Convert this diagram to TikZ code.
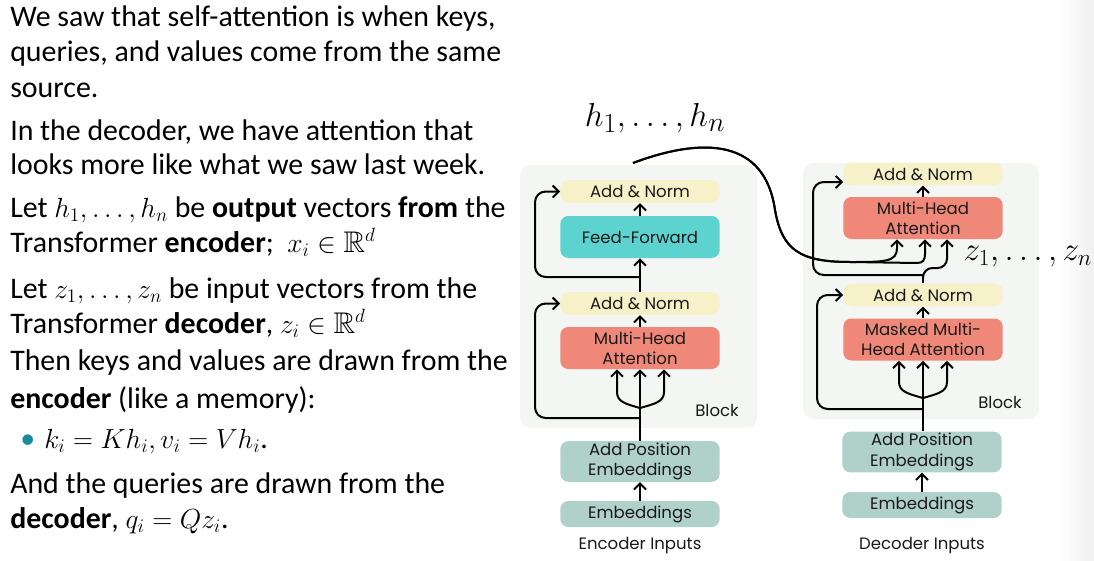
\documentclass[tikz,border=0pt]{standalone}
\usepackage{amssymb}
\usepackage{fontspec}
\setmainfont{Carlito}
\newfontfamily\boxfont{Poppins}
\usetikzlibrary{arrows.meta,calc}

\definecolor{normc}{RGB}{246,241,201}
\definecolor{ffc}{RGB}{92,211,206}
\definecolor{attc}{RGB}{239,136,120}
\definecolor{embc}{RGB}{176,208,202}
\definecolor{blockc}{RGB}{244,246,243}
\definecolor{dotc}{RGB}{28,138,154}
\definecolor{inkc}{RGB}{25,25,25}

\tikzset{
bodytext/.style={anchor=base west, inner sep=0pt, font=\fontsize{22.4}{26}\selectfont},
box/.style={rounded corners=6pt, inner sep=0pt, minimum width=119.5pt, align=center,
  text=inkc, font=\boxfont\fontsize{12.4}{15.2}\selectfont},
normbox/.style={box, fill=normc, minimum height=17pt},
ffbox/.style={box, fill=ffc, minimum height=31.5pt},
attbox/.style={box, fill=attc, minimum height=31.5pt},
posbox/.style={box, fill=embc, minimum height=30.5pt},
embbox/.style={box, fill=embc, minimum height=19.5pt},
smalltext/.style={text=inkc, font=\boxfont\fontsize{12.4}{15.2}\selectfont},
arr/.style={-{Straight Barb[length=4.5pt,width=9pt]}, line width=1.5pt},
ln/.style={line width=1.5pt}}

\begin{document}
\begin{tikzpicture}[x=0.75pt,y=0.75pt,yscale=-1,xscale=1]
\useasboundingbox (0,0) rectangle (1094,560);

%Shape: slide shadow
\shade[left color=white, right color=black!6] (1058,0) rectangle (1094,560);

% Text Node
\node[bodytext] (l1) at (10,27) {We saw that self-attention is when keys,};
\node[bodytext] (l2) at (10,62) {queries, and values come from the same};
\node[bodytext] (l3) at (10,97) {source.};
\node[bodytext] (l4) at (10,140) {In the decoder, we have attention that};
\node[bodytext] (l5) at (10,174) {looks more like what we saw last week.};
\node[bodytext] (l6) at (10,217) {Let $h_1,\ldots,h_n$ be \textbf{output} vectors \textbf{from} the};
\node[bodytext] (l7) at (10,252) {Transformer \textbf{encoder};\ \ $x_i\in\mathbb{R}^d$};
\node[bodytext] (l8) at (10,298) {Let $z_1,\ldots,z_n$ be input vectors from the};
\node[bodytext] (l9) at (10,333) {Transformer \textbf{decoder}, $z_i\in\mathbb{R}^d$};
\node[bodytext] (l10) at (10,370) {Then keys and values are drawn from the};
\node[bodytext] (l11) at (10,408) {\textbf{encoder} (like a memory):};
\node[bodytext, text=dotc] (dot) at (20,448) {\textbullet};
\node[bodytext] (l12) at (44,448) {$k_i=Kh_i, v_i=Vh_i$.};
\node[bodytext] (l13) at (10,493) {And the queries are drawn from the};
\node[bodytext] (l14) at (10,528) {\textbf{decoder}, $q_i=Qz_i$.};

%Shape: encoder block
\fill[blockc, rounded corners=8pt] (520,165) rectangle (757,428);
%Shape: decoder block
\fill[blockc, rounded corners=8pt] (803,163) rectangle (1039,419);

% encoder
\node[normbox] (an1) at (640,191.5) {Add \& Norm};
\node[ffbox] (ff) at (640,237) {Feed-Forward};
\node[normbox] (an2) at (640,303.5) {Add \& Norm};
\node[attbox] (mha) at (640,348) {Multi-Head\\Attention};
\node[posbox] (apos) at (640,461.5) {Add Position\\Embeddings};
\node[embbox] (emb) at (640,514) {Embeddings};
\node[smalltext] (eblk) at (717,410) {Block};
\node[smalltext] (ein) at (640,546) {Encoder Inputs};

% decoder
\node[normbox] (dan1) at (923,174) {Add \& Norm};
\node[attbox] (dmha) at (923,218) {Multi-Head\\Attention};
\node[normbox] (dan2) at (923,295) {Add \& Norm};
\node[attbox] (dmask) at (923,339.5) {Masked Multi-\\Head Attention};
\node[posbox] (dpos) at (922,452) {Add Position\\Embeddings};
\node[embbox] (demb) at (922,505) {Embeddings};
\node[smalltext] (dblk) at (1000,402) {Block};
\node[smalltext] (din) at (922,546) {Decoder Inputs};

% Text Node
\node[font=\fontsize{30}{34}\selectfont] (hlab) at (655,118) {$h_1,\ldots,h_n$};
\node[font=\fontsize{26}{30}\selectfont, anchor=west] (zlab) at (959,257) {$z_1,\ldots,z_n$};

% encoder connectors
\coordinate (efork) at (640,408);
\coordinate (ebr1) at (640,277);
\coordinate (ebr2) at (640,418);
\draw[arr] (emb) -- (apos);
\draw[ln] (apos) -- (efork);
\draw[arr] (efork) -- (mha);
\draw[arr] (efork) .. controls (626,404) and (617,402) .. (617,392) -- ($(mha.south)+(-23,0)$);
\draw[arr] (efork) .. controls (654,404) and (664,402) .. (664,392) -- ($(mha.south)+(24,0)$);
\draw[arr] (mha) -- (an2);
\draw[arr] (an2) -- (ff);
\draw[arr] (ff) -- (an1);
\draw[arr, rounded corners=8pt] (ebr1) -- (535,277) -- (535,191.5) -- (an1.west);
\draw[arr, rounded corners=8pt] (ebr2) -- (535,418) -- (535,303.5) -- (an2.west);

% decoder connectors
\coordinate (dfork) at (923,398);
\coordinate (dbr1) at (923,275);
\coordinate (dbr2) at (923,409);
\coordinate (hout) at (633,163);
\draw[arr] (demb) -- (dpos);
\draw[ln] ($(dpos.north)+(1,0)$) -- (dfork);
\draw[arr] (dfork) -- (dmask);
\draw[arr] (dfork) .. controls (909,394) and (899,392) .. (899,382) -- ($(dmask.south)+(-24,0)$);
\draw[arr] (dfork) .. controls (937,394) and (947,392) .. (947,382) -- ($(dmask.south)+(24,0)$);
\draw[arr] (dmask) -- (dan2);
\draw[ln] (dan2) -- (dbr1);
\draw[arr] (dmha) -- (dan1);
\draw[arr, rounded corners=7pt] (dbr1) -- (923,268) -- (947,268) -- ($(dmha.south)+(24,0)$);
\draw[arr, rounded corners=8pt] (dbr1) -- (813,275) -- (813,182) -- ($(dan1.west)+(0,8)$);
\draw[arr, rounded corners=8pt] (dbr2) -- (817,409) -- (817,295) -- (dan2.west);

% h curves into cross attention
\draw[arr] (hout) .. controls (705,136) and (765,140) .. (775,210) .. controls (782,250) and (800,262) .. (850,262) .. controls (885,262) and (897,262) .. (897,248) -- ($(dmha.south)+(-26,0)$);
\draw[arr] (hout) .. controls (705,136) and (765,140) .. (775,210) .. controls (782,250) and (800,262) .. (850,262) -- (917,263) .. controls (923,263) and (925,260) .. (925,254) -- ($(dmha.south)+(2,0)$);

\end{tikzpicture}
\end{document}
